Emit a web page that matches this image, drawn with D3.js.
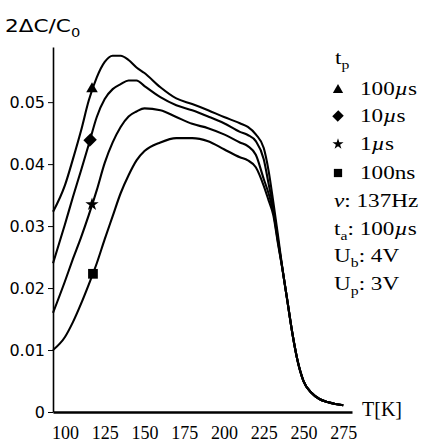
<!DOCTYPE html>
<html><head><meta charset="utf-8">
<script src="https://cdn.jsdelivr.net/npm/d3@7"></script>
<style>body{margin:0;background:#fff}svg{display:block}
.serif{font-family:"Liberation Serif","Times New Roman",Times,"DejaVu Serif",serif}
.sans{font-family:"DejaVu Sans",Verdana,sans-serif}</style>
</head><body><svg id="c" width="423" height="442"></svg>
<script>
// ---- data ----
const temperatures = [92.5,100,105,110,115,120,125,130,135,140,145,150,160,170,180,190,200,210,215,220,225,228,231,234,237,240,243,246,250,255,260,265,270,275];
const values100us = [0.0323,0.0366,0.0408,0.0453,0.0503,0.0540,0.0565,0.0575,0.0575,0.0568,0.0556,0.0547,0.0524,0.0506,0.0497,0.0487,0.0476,0.0466,0.0460,0.0448,0.0426,0.0390,0.0339,0.0284,0.0227,0.0177,0.0127,0.0086,0.0050,0.0031,0.0021,0.0016,0.0013,0.0011];
const values10us  = [0.0240,0.0303,0.0347,0.0389,0.0432,0.0476,0.0505,0.0521,0.0529,0.0535,0.0535,0.0526,0.0508,0.0495,0.0487,0.0477,0.0466,0.0452,0.0447,0.0437,0.0408,0.0369,0.0329,0.0277,0.0227,0.0177,0.0127,0.0086,0.0050,0.0031,0.0021,0.0016,0.0013,0.0011];
const values1us   = [0.0160,0.0211,0.0247,0.0281,0.0318,0.0358,0.0402,0.0435,0.0460,0.0477,0.0485,0.0490,0.0487,0.0476,0.0465,0.0458,0.0448,0.0435,0.0429,0.0415,0.0376,0.0353,0.0323,0.0274,0.0227,0.0177,0.0127,0.0086,0.0050,0.0031,0.0021,0.0016,0.0013,0.0011];
const values100ns = [0.0100,0.0121,0.0145,0.0174,0.0206,0.0240,0.0279,0.0316,0.0353,0.0382,0.0406,0.0421,0.0435,0.0442,0.0442,0.0437,0.0424,0.0411,0.0406,0.0395,0.0365,0.0342,0.0318,0.0271,0.0227,0.0177,0.0127,0.0086,0.0050,0.0031,0.0021,0.0016,0.0013,0.0011];
const seriesNames = ["100µs","10µs","1µs","100ns"];
const seriesSymbols = ["triangle","diamond","star","square"];
const markerT = [117.0,115.8,117.0,117.6];
const markerV = [0.0523,0.0439,0.0335,0.0223];
const xTicks = [100,125,150,175,200,225,250,275];
const yTicks = [0,0.01,0.02,0.03,0.04,0.05];
const yTickLabels = ["0","0.01","0.02","0.03","0.04","0.05"];
const legendTitle = "t_p";
const paramLines = ["ν: 137Hz","t_a: 100µs","U_b: 4V","U_p: 3V"];
const yTitle = "2ΔC/C_0";
const xTitle = "T[K]";

// ---- drawing ----
const svg = d3.select("#c");
const x = d3.scaleLinear().domain([92.47, 280.5]).range([53, 352]);
const y = d3.scaleLinear().domain([0, 0.0589]).range([412, 47]);

const allSeries = [values100us, values10us, values1us, values100ns];

function symPath(kind, big){
  if(kind==="triangle") return d3.symbol(d3.symbolTriangle, big?58:46)();
  if(kind==="diamond") return d3.symbol(d3.symbolSquare, big?82:60)();
  if(kind==="star") return d3.symbol(d3.symbolStar, big?55:38)();
  return d3.symbol(d3.symbolSquare, big?95:68)();
}
function symTransform(kind, cx, cy){
  let t = `translate(${cx},${cy})`;
  if(kind==="diamond") t += " rotate(45) scale(1,1.1)";
  if(kind==="triangle") t += " translate(0,1)";
  return t;
}

// rich text: "_c" subscript, µ/ν italic
function rich(sel, str, size){
  const re = /(_.)|([µν])|([^_µν]+)/g; let m; let sub=false;
  while((m = re.exec(str))){
    if(m[1]){
      sel.append("tspan").attr("font-size", size*0.68).attr("dy", size*0.25).text(m[1][1]);
      sub=true;
    } else {
      const ts = sel.append("tspan").text(m[2]||m[3]);
      if(m[2]) ts.attr("font-style","italic");
      if(sub){ ts.attr("dy", -size*0.25); sub=false; }
    }
  }
}

// y axis
const gy = svg.append("g").attr("transform","translate(53,0)")
  .call(d3.axisLeft(y).tickValues(yTicks).tickFormat((d,i)=>yTickLabels[i]).tickSize(5).tickSizeOuter(0).tickPadding(4));
gy.attr("font-family", null);
gy.select(".domain").attr("stroke","#000").attr("stroke-width",1.6);
gy.selectAll(".tick line").attr("stroke","#000").attr("stroke-width",1);
gy.selectAll(".tick text").attr("class","sans").attr("font-size",16).attr("fill","#000").attr("x",-8).attr("dy","0.35em");

// x axis
const gx = svg.append("g").attr("transform","translate(0,412)")
  .call(d3.axisBottom(x).tickValues(xTicks).tickSize(0).tickSizeOuter(0));
gx.attr("font-family", null);
gx.select(".domain").attr("stroke","#000").attr("stroke-width",2.6);
gx.selectAll(".tick text").attr("class","serif").attr("font-size",18).attr("fill","#000").attr("y",27).attr("dy",0);

// curves
const line = d3.line().x((d,i)=>x(temperatures[i])).y(d=>y(d)).curve(d3.curveMonotoneX);
svg.append("g").selectAll("path.s").data(allSeries).join("path")
  .attr("class","s").attr("d", line).attr("fill","none").attr("stroke","#000").attr("stroke-width",2.1)
  .attr("stroke-linejoin","round");

// markers on curves
seriesSymbols.forEach((k,i)=>{
  svg.append("path").attr("d", symPath(k,true)).attr("fill","#000")
    .attr("transform", symTransform(k, x(markerT[i]), y(markerV[i])));
});

// titles
const ty = svg.append("text").attr("class","sans").attr("font-size",18)
  .attr("transform","translate(5,32) scale(1.2,1)").attr("fill","#000");
rich(ty, yTitle, 18);
svg.append("text").attr("class","serif").attr("font-size",20)
  .attr("x",362).attr("y",416).attr("fill","#000").text(xTitle);

// legend
const LF = 19, LS = 1.22;
const lt = svg.append("text").attr("class","serif").attr("font-size",LF)
  .attr("transform",`translate(335,64) scale(${LS},1)`);
rich(lt, legendTitle, LF);
const rowY = [89,116,144,173];
seriesNames.forEach((n,i)=>{
  const k = seriesSymbols[i];
  svg.append("path").attr("d", symPath(k,false)).attr("fill","#000")
    .attr("transform", symTransform(k, 338, rowY[i]));
  const t = svg.append("text").attr("class","serif").attr("font-size",LF)
    .attr("transform",`translate(360,${rowY[i]+6}) scale(${LS},1)`);
  rich(t, n, LF);
});
const pY = [207,235,262,290];
paramLines.forEach((s,i)=>{
  const t = svg.append("text").attr("class","serif").attr("font-size",LF)
    .attr("transform",`translate(334,${pY[i]}) scale(${LS},1)`);
  rich(t, s, LF);
});
</script></body></html>
